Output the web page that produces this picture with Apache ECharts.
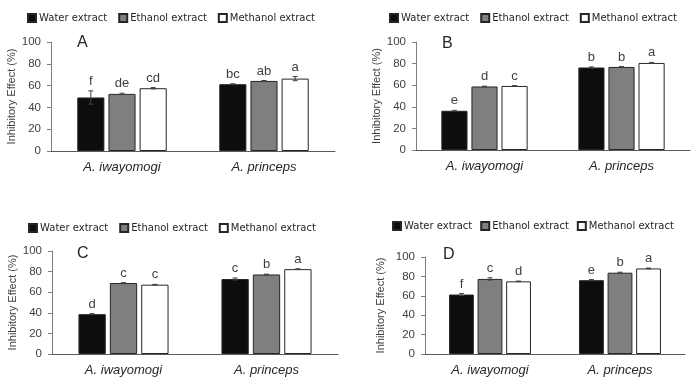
<!DOCTYPE html>
<html>
<head>
<meta charset="utf-8">
<script src="https://cdn.jsdelivr.net/npm/echarts@6/dist/echarts.min.js"></script>
<style>
  html, body { margin: 0; padding: 0; background: #fff; }
  #chart { width: 692px; height: 377px; }
</style>
</head>
<body>
<div id="chart"></div>
<script>
const categories = ['A. iwayomogi', 'A. princeps'];
const extracts = ['Water extract', 'Ethanol extract', 'Methanol extract'];
const yTicks = [0, 20, 40, 60, 80, 100];

// rows: water, ethanol, methanol ; cols: A. iwayomogi, A. princeps
const valuesA = [[49.1, 61.3], [52.4, 64.3], [57.6, 66.4]];
const errorsA = [[6.1, 0.4], [0.6, 0.4], [0.6, 1.9]];
const lettersA = [['f', 'bc'], ['de', 'ab'], ['cd', 'a']];

const valuesB = [[36.3, 76.4], [58.8, 76.9], [59.3, 80.6]];
const errorsB = [[0.4, 0.5], [0.3, 0.4], [0.3, 0.5]];
const lettersB = [['e', 'b'], ['d', 'b'], ['c', 'a']];

const valuesC = [[38.7, 72.8], [68.9, 77.2], [67.3, 82.4]];
const errorsC = [[0.5, 1.0], [0.4, 0.3], [0.3, 0.4]];
const lettersC = [['d', 'c'], ['c', 'b'], ['c', 'a']];

const valuesD = [[61.3, 76.1], [77.4, 83.8], [74.9, 88.2]];
const errorsD = [[1.0, 0.6], [1.2, 0.5], [0.3, 0.4]];
const lettersD = [['f', 'e'], ['c', 'b'], ['d', 'a']];

const panels = [
  { label: 'A', vals: valuesA, errs: errorsA, letters: lettersA,
    grid: { left: 51, right: 357, top: 42, height: 109 }, nameGap: 32,
    legend: { left: 27, top: 13, gap: 11 }, mark: [83, 44] },
  { label: 'B', vals: valuesB, errs: errorsB, letters: lettersB,
    grid: { left: 416, right: 2, top: 42, height: 108 }, nameGap: 27,
    legend: { left: 389, top: 13, gap: 11 }, mark: [448, 45] },
  { label: 'C', vals: valuesC, errs: errorsC, letters: lettersC,
    grid: { left: 52, right: 354, top: 251, height: 105 }, nameGap: 32,
    legend: { left: 28, top: 223, gap: 11 }, mark: [83, 255] },
  { label: 'D', vals: valuesD, errs: errorsD, letters: lettersD,
    grid: { left: 425, right: 7, top: 257, height: 99 }, nameGap: 39,
    legend: { left: 392, top: 221, gap: 8 }, mark: [449, 256] }
];

const barColors = ['#0d0d0d', '#7f7f7f', '#ffffff'];
const catGap = 0.37, barGap = 0.15;

// error bars + significance letters
const makeRender = (vals, errs, letters) => function (params, api) {
  const c = api.value(0), s = api.value(1);
  const v = vals[s][c], e = errs[s][c];
  const band = api.size([1, 0])[0];
  const bw = band * (1 - catGap) / (3 + 2 * barGap);
  const x = api.coord([c, 0])[0] + (s - 1) * bw * (1 + barGap);
  const top = api.coord([c, v + e])[1];
  const bot = api.coord([c, v - e])[1];
  const st = { stroke: '#404040', lineWidth: 1 };
  return {
    type: 'group',
    children: [
      { type: 'line', shape: { x1: x, y1: top, x2: x, y2: bot }, style: st },
      { type: 'line', shape: { x1: x - 2.5, y1: top, x2: x + 2.5, y2: top }, style: st },
      { type: 'line', shape: { x1: x - 2.5, y1: bot, x2: x + 2.5, y2: bot }, style: st },
      { type: 'text', x: x, y: top - 3,
        style: { text: letters[s][c], fill: '#404040', font: '13px "Liberation Sans"',
                 align: 'center', verticalAlign: 'bottom' } }
    ]
  };
};

const grids = [], xAxes = [], yAxes = [], series = [], legends = [], graphics = [];
panels.forEach((p, i) => {
  grids.push(Object.assign({ containLabel: false }, p.grid));
  xAxes.push({
    type: 'category', gridIndex: i, data: categories,
    axisLine: { lineStyle: { color: '#595959', width: 1 } },
    axisTick: { show: false },
    axisLabel: { margin: 10, fontSize: 13, fontStyle: 'italic', color: '#262626',
                 fontFamily: 'Liberation Sans' }
  });
  yAxes.push({
    type: 'value', gridIndex: i, min: 0, max: 100, interval: 20,
    name: 'Inhibitory Effect (%)', nameLocation: 'middle', nameGap: p.nameGap,
    nameTextStyle: { fontSize: 11, color: '#404040', fontFamily: 'Liberation Sans' },
    axisLine: { show: true, lineStyle: { color: '#7f7f7f' } },
    axisTick: { show: true, length: 4, lineStyle: { color: '#7f7f7f' } },
    axisLabel: { fontSize: 11.5, color: '#404040', margin: 10, fontFamily: 'Liberation Sans',
                 formatter: v => yTicks.includes(v) ? String(v) : '' },
    splitLine: { show: false }
  });
  extracts.forEach((name, s) => {
    series.push({
      name: name, type: 'bar', xAxisIndex: i, yAxisIndex: i,
      data: p.vals[s],
      barCategoryGap: (catGap * 100) + '%', barGap: (barGap * 100) + '%',
      itemStyle: { color: barColors[s], borderColor: '#262626', borderWidth: 1 },
      emphasis: { disabled: true }
    });
  });
  const errData = [];
  for (let s = 0; s < 3; s++) for (let c = 0; c < 2; c++) errData.push([c, s]);
  series.push({
    type: 'custom', xAxisIndex: i, yAxisIndex: i, z: 5, clip: false,
    renderItem: makeRender(p.vals, p.errs, p.letters),
    encode: { x: 0, y: -1 },
    data: errData, silent: true
  });
  legends.push({
    left: p.legend.left, top: p.legend.top, padding: 0, data: extracts,
    icon: 'rect', itemWidth: 8, itemHeight: 8, itemGap: p.legend.gap,
    textStyle: { fontSize: 10, color: '#262626', fontFamily: 'DejaVu Sans', padding: [0, 0, 0, -2] },
    selectedMode: false
  });
  graphics.push({
    type: 'text', left: p.mark[0] - 6, top: p.mark[1] - 9,
    style: { text: p.label, fontSize: 16, fill: '#262626', fontFamily: 'Liberation Sans' }
  });
});

const chart = echarts.init(document.getElementById('chart'));
chart.setOption({
  animation: false,
  backgroundColor: '#fff',
  grid: grids, xAxis: xAxes, yAxis: yAxes,
  legend: legends, series: series, graphic: graphics
});
</script>
</body>
</html>
